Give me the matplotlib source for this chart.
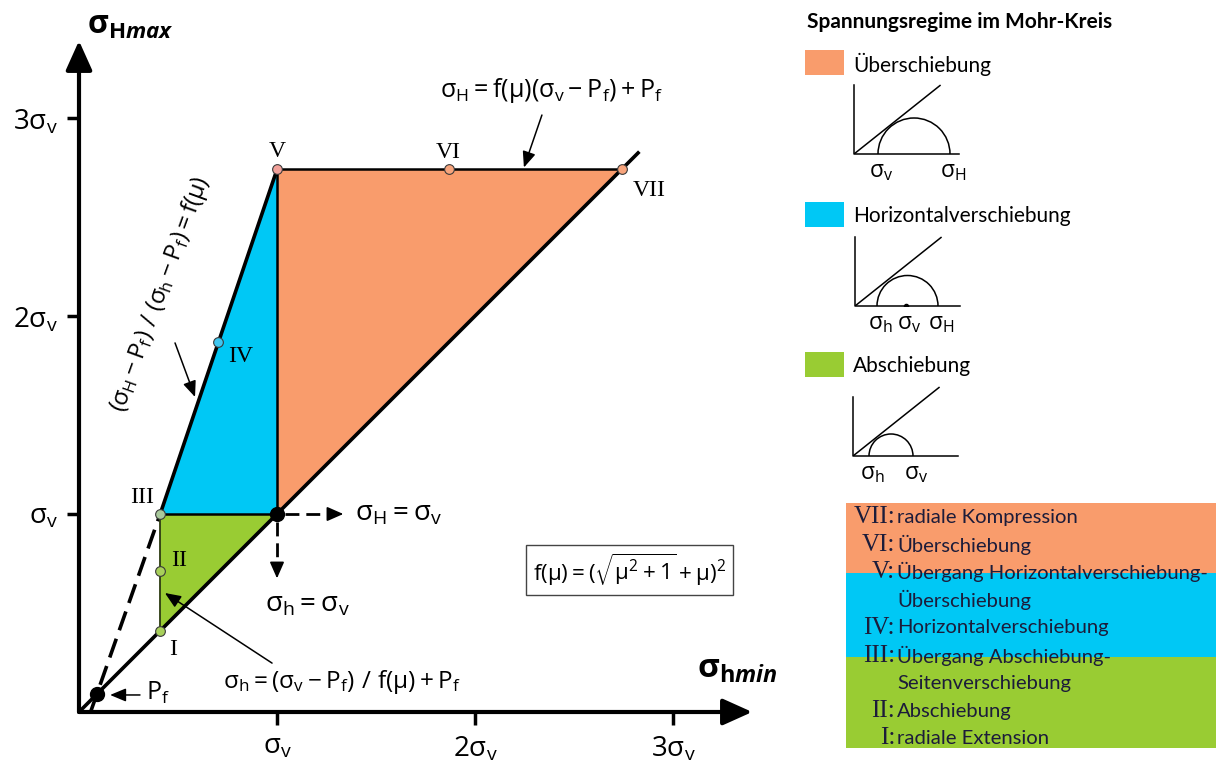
import matplotlib
matplotlib.use("Agg")
from matplotlib import pyplot as plt
from matplotlib.patches import Arc, Rectangle

plt.rcParams['font.family'] = ['Lato', 'DejaVu Sans']
plt.rcParams['mathtext.fontset'] = 'custom'
plt.rcParams['mathtext.rm'] = 'Open Sans'
plt.rcParams['mathtext.it'] = 'Open Sans:italic:bold'
plt.rcParams['mathtext.bf'] = 'Open Sans:bold'
plt.rcParams['mathtext.default'] = 'rm'

# stress states in units of sigma_v
pf = 0.09
sv = 1.0
numerals = ['I', 'II', 'III', 'IV', 'V', 'VI', 'VII']
sh_pts = [0.41, 0.41, 0.41, 0.70, 1.00, 1.87, 2.74]
sH_pts = [0.41, 0.71, 1.00, 1.87, 2.74, 2.74, 2.74]
pt_colors = ['#a8d05a', '#a8d05a', '#a9c99c', '#3ec6ef', '#f2a19a', '#f7a47c', '#f7a47c']
diag_end = 2.83

tick_vals = [1, 2, 3]
tick_labels = [r'$\sigma_v$', r'$2\sigma_v$', r'$3\sigma_v$']

c_over = '#f99c6c'
c_hor = '#00c8f5'
c_ab = '#99cc33'

# legend: Mohr circles (sigma positions on the normal stress axis)
mohr_sets = [
    ('Überschiebung', c_over, {r'$\sigma_v$': 2.4, r'$\sigma_H$': 9.6}, None),
    ('Horizontalverschiebung', c_hor, {r'$\sigma_h$': 2.2, r'$\sigma_v$': 5.1, r'$\sigma_H$': 8.3}, 5.1),
    ('Abschiebung', c_ab, {r'$\sigma_h$': 1.6, r'$\sigma_v$': 6.0}, None),
]
mohr_axis_h = [6.9, 6.9, 5.9]
mohr_line_end = (8.6, 6.85)

band_rows = [
    ('VII:', 'radiale Kompression'),
    ('VI:', 'Überschiebung'),
    ('V:', 'Übergang Horizontalverschiebung-'),
    ('', 'Überschiebung'),
    ('IV:', 'Horizontalverschiebung'),
    ('III:', 'Übergang Abschiebung-'),
    ('', 'Seitenverschiebung'),
    ('II:', 'Abschiebung'),
    ('I:', 'radiale Extension'),
]

W, H = 1216, 762
fig = plt.figure(figsize=(W / 100, H / 100), dpi=100)


def fx(px):
    return px / W


def fy(py):
    return 1 - py / H


# main diagram, 198 px per sigma_v
ox, oy, unit = 79, 712, 198
ax = fig.add_axes([fx(ox), fy(oy), 3.6 * unit / W, 3.55 * unit / H])
ax.set_xlim(0, 3.6)
ax.set_ylim(0, 3.55)
for sp in ax.spines.values():
    sp.set_visible(False)
ax.patch.set_visible(False)
ax.set_xticks(tick_vals)
ax.set_xticklabels(tick_labels)
ax.set_yticks(tick_vals)
ax.set_yticklabels(tick_labels)
ax.tick_params(axis='both', length=9, width=2.5, direction='out', labelsize=20)
ax.tick_params(axis='x', pad=7)
ax.tick_params(axis='y', pad=6)

big_head = dict(arrowstyle='-|>,head_length=0.6,head_width=0.27', mutation_scale=30,
                lw=3, color='k', shrinkA=0, shrinkB=0)
ax.annotate('', xy=(3.40, 0), xytext=(0, 0), arrowprops=big_head, annotation_clip=False)
ax.annotate('', xy=(0, 3.39), xytext=(0, 0), arrowprops=big_head, annotation_clip=False)

p1, p3, p5, p7 = [(sh_pts[i], sH_pts[i]) for i in (0, 2, 4, 6)]
iso = (sv, sv)
ax.fill([p3[0], iso[0], p1[0]], [p3[1], iso[1], p1[1]], color=c_ab, lw=0, zorder=1)
ax.fill([p3[0], p5[0], iso[0]], [p3[1], p5[1], iso[1]], color=c_hor, lw=0, zorder=1)
ax.fill([p5[0], p7[0], iso[0]], [p5[1], p7[1], iso[1]], color=c_over, lw=0, zorder=1)

# boundary lines
ax.plot([0, diag_end], [0, diag_end], color='k', lw=2.6, zorder=3, solid_capstyle='butt')
ax.plot([p3[0], p5[0]], [p3[1], p5[1]], color='k', lw=2.6, zorder=3)
slope = (p3[1] - pf) / (p3[0] - pf)
x0 = pf - pf / slope
ax.plot([x0, p3[0]], [0, p3[1]], color='k', lw=2.6, ls=(0, (5.5, 2.5)), zorder=3)
ax.plot([p5[0], p7[0]], [p5[1], p7[1]], color='k', lw=1.8, zorder=3)
ax.plot([iso[0], iso[0]], [iso[1], p5[1]], color='k', lw=1.8, zorder=3)
ax.plot([p3[0], iso[0]], [p3[1], iso[1]], color='k', lw=1.8, zorder=3)
ax.plot([p1[0], p3[0]], [p1[1], p3[1]], color='#2c3a10', lw=1.3, zorder=3)

# dashed guides from the isotropic point
ax.plot([iso[0] + 0.04, 1.29], [iso[1], iso[1]], color='k', lw=2, ls=(0, (5, 2.5)), zorder=3)
ax.plot([iso[0], iso[0]], [iso[1] - 0.04, 0.72], color='k', lw=2, ls=(0, (5, 2.5)), zorder=3)
small_head = dict(arrowstyle='-|>,head_length=0.5,head_width=0.22', mutation_scale=20,
                  lw=1.2, color='k', shrinkA=0, shrinkB=0)
ax.annotate('', xy=(1.335, iso[1]), xytext=(1.27, iso[1]), arrowprops=small_head)
ax.annotate('', xy=(iso[0], 0.675), xytext=(iso[0], 0.74), arrowprops=small_head)

# points
ax.plot([pf, iso[0]], [pf, iso[1]], 'o', color='k', ms=10, zorder=5)
for x, y, c in zip(sh_pts, sH_pts, pt_colors):
    ax.plot(x, y, 'o', ms=7, mfc=c, mec='#3a3a3a', mew=0.8, zorder=6, clip_on=False)

num_pos = [(0.475, 0.318), (0.505, 0.763), (0.318, 1.081), (0.818, 1.793),
           (1.0, 2.833), (1.864, 2.828), (2.879, 2.636)]
for lab, (x, y) in zip(numerals, num_pos):
    ax.text(x, y, lab, family='Liberation Serif', fontsize=17, ha='center', va='center')

# equation labels with pointers
thin = dict(arrowstyle='-|>,head_length=0.6,head_width=0.25', mutation_scale=16,
            lw=1.1, color='k', shrinkA=0, shrinkB=0)
ax.text(2.389, 3.141, r'$\sigma_H = f(\mu)(\sigma_v - P_f) + P_f$', fontsize=18,
        ha='center', va='center')
ax.annotate('', xy=(2.247, 2.750), xytext=(2.338, 3.015), arrowprops=thin)

ax.text(0.41, 2.11, r'$(\sigma_H - P_f)\ /\ (\sigma_h - P_f) = f(\mu)$', fontsize=17,
        rotation=70, rotation_mode='anchor', ha='center', va='center')
ax.annotate('', xy=(0.586, 1.591), xytext=(0.485, 1.864), arrowprops=thin)

ax.text(1.33, 0.15, r'$\sigma_h = (\sigma_v - P_f)\ /\ f(\mu) + P_f$', fontsize=17.5,
        ha='center', va='center')
ax.annotate('', xy=(0.434, 0.601), xytext=(0.975, 0.247), arrowprops=thin)

ax.text(0.34, 0.096, r'$P_f$', fontsize=18, ha='left', va='center')
ax.annotate('', xy=(0.157, 0.086), xytext=(0.308, 0.086), arrowprops=thin)

ax.text(1.394, 1.0, r'$\sigma_H = \sigma_v$', fontsize=20, ha='left', va='center')
ax.text(0.94, 0.54, r'$\sigma_h = \sigma_v$', fontsize=20, ha='left', va='center')

ax.text(2.78, 0.717, r'$f(\mu) = (\sqrt{\mu^2 + 1} + \mu)^2$', fontsize=16,
        ha='center', va='center',
        bbox=dict(boxstyle='square,pad=0.3', fc='white', ec='#444444', lw=1))

# axis titles
fig.text(fx(87), fy(34), r'$\mathbf{\sigma}_{\mathbf{H}\mathit{max}}$', fontsize=23,
         va='baseline', ha='left')
fig.text(fx(697), fy(678), r'$\mathbf{\sigma}_{\mathbf{h}\mathit{min}}$', fontsize=24,
         va='baseline', ha='left')

# legend with Mohr circles
fig.text(fx(807), fy(22), 'Spannungsregime im Mohr-Kreis', fontsize=15,
         fontweight='bold', va='center', ha='left')
sq_top = [50, 202, 352]
mohr_origin = [(854, 154), (855, 306), (853, 456)]
for (name, col, sig, dot), top, (mx, my), ah in zip(mohr_sets, sq_top, mohr_origin, mohr_axis_h):
    fig.patches.append(Rectangle((fx(805), fy(top + 25)), 39 / W, 25 / H,
                                 transform=fig.transFigure, color=col, lw=0))
    fig.text(fx(853), fy(top + 14), name, fontsize=15, va='center', ha='left')
    m = fig.add_axes([fx(mx), fy(my), 110 / W, 80 / H])
    m.set_xlim(0, 11)
    m.set_ylim(0, 8)
    m.axis('off')
    m.plot([0, 0, 10.5], [ah, 0, 0], color='k', lw=1.1, clip_on=False)
    m.plot([0, mohr_line_end[0]], [0, mohr_line_end[1]], color='k', lw=1.1)
    vals = list(sig.values())
    lo, hi = min(vals), max(vals)
    m.add_patch(Arc(((lo + hi) / 2, 0), hi - lo, hi - lo, theta1=0, theta2=180,
                    color='k', lw=1.1))
    if dot is not None:
        m.plot(dot, 0, 'o', color='k', ms=3)
    for lab, v in sig.items():
        m.text(v + 0.35, -0.8, lab, fontsize=16.5, ha='center', va='top', clip_on=False)

# legend band for the numbered states
fig.patches.append(Rectangle((fx(846), fy(573)), (W - 846) / W, 70 / H,
                             transform=fig.transFigure, color=c_over, lw=0))
fig.patches.append(Rectangle((fx(846), fy(657)), (W - 846) / W, 84 / H,
                             transform=fig.transFigure, color=c_hor, lw=0))
fig.patches.append(Rectangle((fx(846), fy(748)), (W - 846) / W, 91 / H,
                             transform=fig.transFigure, color=c_ab, lw=0))
row_y = [517, 545, 572, 600, 628, 656, 684, 711, 738]
for (num, txt), y in zip(band_rows, row_y):
    if num:
        fig.text(fx(895), fy(y), num, family='Liberation Serif', fontsize=18,
                 ha='right', va='center', color='#1c1c3a')
    fig.text(fx(897), fy(y), txt, fontsize=14.6, ha='left', va='center', color='#1c1c3a')

fig.savefig('out.png', dpi=100)
